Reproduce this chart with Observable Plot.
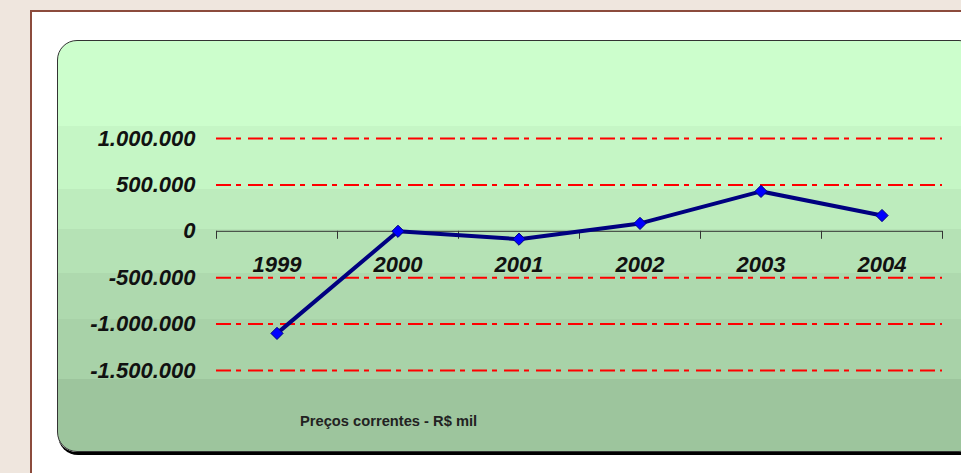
<!DOCTYPE html>
<html>
<head>
<meta charset="utf-8">
<script src="https://cdn.jsdelivr.net/npm/d3@7"></script>
<script src="https://cdn.jsdelivr.net/npm/@observablehq/plot@0.6"></script>
<style>
  html, body { margin: 0; padding: 0; }
  body { width: 961px; height: 473px; overflow: hidden; background: #efe6de; position: relative; font-family: "Liberation Sans", Arial, sans-serif; }
  #frame { position: absolute; left: 30px; top: 10px; width: 960px; height: 500px; background: #ffffff; border-left: 2px solid #8c4b3c; border-top: 2px solid #8c4b3c; }
  #panel { position: absolute; left: 57px; top: 40px; width: 920px; height: 410px; border: 1px solid #333; border-radius: 20px;
    box-shadow: 1px 3px 0 #000;
    background: linear-gradient(to bottom,
      #ccfecc 0px, #ccfecc 85px,
      #c5f6c5 85px, #c5f6c5 148px,
      #bdecbd 148px, #bdecbd 188px,
      #b5e2b5 188px, #b5e2b5 232px,
      #aed9ae 232px, #aed9ae 278px,
      #a8d2a8 278px, #a8d2a8 338px,
      #9dc59d 338px, #9dc59d 410px); }
  #chart { position: absolute; left: 0; top: 0; }
  #note { position: absolute; left: 300px; top: 413px; font: bold 14.7px "Liberation Sans", Arial, sans-serif; color: #222; white-space: nowrap; }
</style>
</head>
<body>
<div id="frame"></div>
<div id="panel"></div>
<div id="chart"></div>
<div id="note">Preços correntes - R$ mil</div>
<script>
// Annual result, current prices (R$ thousand)
const years = [1999, 2000, 2001, 2002, 2003, 2004];
const values = [-1100000, 0, -85000, 85000, 430000, 170000];
const yTicks = [1000000, 500000, 0, -500000, -1000000, -1500000];
const gridLevels = [1000000, 500000, -500000, -1000000, -1500000];
const yearEdges = [1998.5, 1999.5, 2000.5, 2001.5, 2002.5, 2003.5, 2004.5];

const data = years.map((year, i) => ({year, value: values[i]}));

const br = d3.formatLocale({decimal: ",", thousands: ".", grouping: [3], currency: ["R$", ""], minus: "-"});
const fmt = br.format(",d");

const chart = Plot.plot({
  width: 961,
  height: 473,
  marginLeft: 216,
  marginRight: 19,
  marginTop: 138,
  marginBottom: 103,
  style: {background: "transparent", fontFamily: "'Liberation Sans', Arial, sans-serif"},
  x: {type: "linear", domain: [1998.5, 2004.5], axis: null},
  y: {domain: [-1500000, 1000000], axis: null},
  marks: [
    Plot.ruleY(gridLevels, {stroke: "#ff0000", strokeWidth: 2, strokeDasharray: "15,5,5,7"}),
    Plot.ruleY([0], {stroke: "#333333", strokeWidth: 1}),
    Plot.ruleX(yearEdges, {x: d => d, y1: () => 0, y2: () => 0, insetBottom: -8, stroke: "#333333", strokeWidth: 1}),
    Plot.axisY({ticks: yTicks, tickSize: 0, tickPadding: 21, tickFormat: fmt, label: null, fontSize: 22, fontWeight: "bold", fontStyle: "italic", fill: "#111"}),
    Plot.text(years, {x: d => d, y: () => 0, dy: 34, text: d => String(d), fontSize: 22, fontWeight: "bold", fontStyle: "italic", fill: "#111"}),
    Plot.line(data, {x: "year", y: "value", stroke: "#000080", strokeWidth: 4}),
    Plot.dot(data, {x: "year", y: "value", symbol: "diamond2", r: 5.5, fill: "#0000ff", stroke: "#000080", strokeWidth: 1})
  ]
});

document.getElementById("chart").appendChild(chart);
</script>
</body>
</html>
